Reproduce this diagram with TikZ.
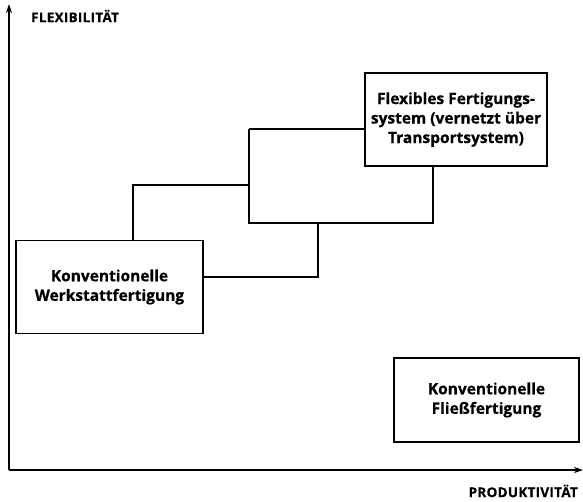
\documentclass[tikz,border=0pt]{standalone}
\usepackage{fontspec}
\setmainfont{Open Sans}
\usetikzlibrary{arrows.meta}
\begin{document}
\begin{tikzpicture}[x=1pt,y=-1pt,
  box/.style={draw,line width=1.6pt,minimum width=#1,inner sep=0pt,align=center,
    font=\fontsize{15.5}{19.5}\selectfont\bfseries\addfontfeatures{FakeBold=0.6}},
  link/.style={line width=1.6pt},
  axis/.style={line width=1.4pt,-{Stealth[length=9pt,width=6pt]}},
  axlabel/.style={font=\fontsize{13.5}{14}\selectfont\bfseries\addfontfeatures{LetterSpace=2,FakeBold=0.6},inner sep=0pt}]
\useasboundingbox (0,0) rectangle (583,501);
% axes
\coordinate (o) at (9,470);
\coordinate (ytop) at (9,4);
\coordinate (xend) at (583,470);
\draw[axis] (o) -- (ytop);
\draw[axis] (o) -- (xend);
\node[axlabel,anchor=west] (yl) at (31,16) {FLEXIBILITÄT};
\node[axlabel,anchor=east] (xl) at (578,491) {PRODUKTIVITÄT};
% boxes
\node[box=187pt,minimum height=93pt] (werk) at (109.5,287) {Konventionelle\\Werkstattfertigung};
\node[box=182pt,minimum height=93pt] (fms) at (456,119.5) {Flexibles Fertigungs-\\system (vernetzt über\\Transportsystem)};
\node[box=185pt,minimum height=84pt] (fliess) at (486.5,400) {Konventionelle\\Fließfertigung};
% connecting paths
\coordinate (a) at (249,185);
\coordinate (b) at (249,129);
\coordinate (c) at (249,223);
\coordinate (d) at (433,223);
\coordinate (e) at (318,223);
\coordinate (f) at (318,277);
\draw[link] (werk.north -| 133,0) |- (a);
\draw[link] (b) -- (c) -- (d) -- (d |- fms.south);
\draw[link] (b) -- (b -| fms.west);
\draw[link] (e) |- (f -| werk.east);
\end{tikzpicture}
\end{document}
